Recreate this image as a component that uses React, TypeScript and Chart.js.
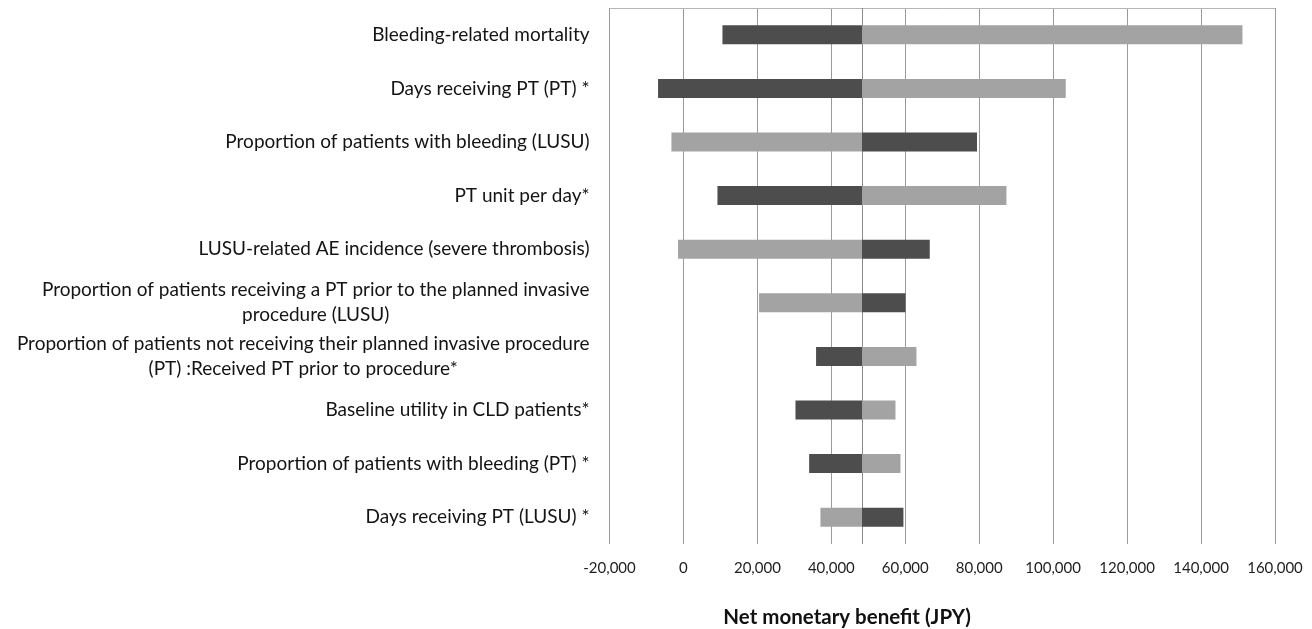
import React, { useEffect, useRef } from "react";
import { Chart, registerables } from "chart.js";

Chart.register(...registerables);

const CATEGORIES: (string | string[])[] = [
  "Bleeding-related mortality",
  "Days receiving PT (PT) *",
  "Proportion of patients with bleeding (LUSU)",
  "PT unit per day*",
  "LUSU-related AE incidence (severe thrombosis)",
  ["Proportion of patients receiving a PT prior to the planned invasive", "procedure (LUSU)"],
  ["Proportion of patients not receiving their planned invasive procedure", "(PT) :Received PT prior to procedure*"],
  "Baseline utility in CLD patients*",
  "Proportion of patients with bleeding (PT) *",
  "Days receiving PT (LUSU) *",
];

const BASE_VALUE = 48300;
const DARK_END = [10550, -6870, 79400, 9200, 66620, 60050, 35870, 30300, 34000, 59500];
const LIGHT_END = [151200, 103400, -3250, 87360, -1460, 20450, 63020, 57350, 58700, 37050];

const X_MIN = -20000;
const X_MAX = 160000;
const X_STEP = 20000;
const X_TITLE = "Net monetary benefit (JPY)";

const DARK = "#4d4d4d";
const LIGHT = "#a3a3a3";

export default function App() {
  const ref = useRef<HTMLCanvasElement | null>(null);

  useEffect(() => {
    if (!ref.current) return;

    const labelPlugin = {
      id: "tornadoLabels",
      beforeDatasetsDraw(chart: any) {
        const { ctx, chartArea, scales } = chart;
        const x = scales.x;
        ctx.save();
        ctx.strokeStyle = "#b5b5b5";
        ctx.lineWidth = 1;
        ctx.beginPath();
        ctx.moveTo(chartArea.left, Math.round(chartArea.top) + 0.5);
        ctx.lineTo(chartArea.right, Math.round(chartArea.top) + 0.5);
        ctx.stroke();
        const bx = Math.round(x.getPixelForValue(BASE_VALUE)) + 0.5;
        ctx.strokeStyle = "#8a8a8a";
        ctx.beginPath();
        ctx.moveTo(bx, chartArea.top);
        ctx.lineTo(bx, chartArea.bottom);
        ctx.stroke();
        ctx.restore();
      },
      afterDraw(chart: any) {
        const { ctx, chartArea, scales } = chart;
        const y = scales.y;
        ctx.save();
        ctx.font = "19px Lato";
        ctx.fillStyle = "#141414";
        ctx.textBaseline = "middle";
        const right = chartArea.left - 20;
        const lh = 25;
        CATEGORIES.forEach((lab, i) => {
          const cy = y.getPixelForValue(i);
          const lines = Array.isArray(lab) ? lab : [lab];
          const widths = lines.map((l) => ctx.measureText(l).width);
          const blockW = Math.max(...widths);
          const startY = cy - ((lines.length - 1) * lh) / 2;
          lines.forEach((l, k) => {
            if (lines.length === 1) {
              ctx.textAlign = "right";
              ctx.fillText(l, right, startY + k * lh);
            } else {
              ctx.textAlign = "center";
              ctx.fillText(l, right - blockW / 2, startY + k * lh);
            }
          });
        });
        ctx.font = "bold 20.5px Lato";
        ctx.textAlign = "center";
        ctx.fillStyle = "#111";
        const tx = chartArea.left + (chartArea.right - chartArea.left) * 0.357;
        ctx.fillText(X_TITLE, tx, chartArea.bottom + 73);
        ctx.restore();
      },
    };

    const chart = new Chart(ref.current, {
      type: "bar",
      data: {
        labels: CATEGORIES.map((c) => (Array.isArray(c) ? c.join(" ") : c)),
        datasets: [
          {
            label: "Low",
            data: DARK_END.map((v) => [BASE_VALUE, v]) as any,
            backgroundColor: DARK,
            borderWidth: 0,
            grouped: false,
            categoryPercentage: 1,
            barPercentage: 0.355,
          },
          {
            label: "High",
            data: LIGHT_END.map((v) => [BASE_VALUE, v]) as any,
            backgroundColor: LIGHT,
            borderWidth: 0,
            grouped: false,
            categoryPercentage: 1,
            barPercentage: 0.355,
          },
        ],
      },
      options: {
        indexAxis: "y",
        animation: false,
        responsive: true,
        maintainAspectRatio: false,
        layout: { padding: { left: 609.5, right: 37, top: 8, bottom: 45 } },
        plugins: {
          legend: { display: false },
          tooltip: { enabled: false },
          title: { display: false },
        },
        scales: {
          y: {
            display: false,
            offset: true,
          },
          x: {
            type: "linear",
            min: X_MIN,
            max: X_MAX,
            afterFit: (s: any) => {
              s.height = 40;
              s.paddingLeft = 0;
              s.paddingRight = 0;
            },
            border: { display: false },
            grid: { color: "#9a9a9a", lineWidth: 1, drawTicks: false },
            ticks: {
              stepSize: X_STEP,
              padding: 15,
              color: "#1e1e1e",
              font: { family: "Lato", size: 15 },
              callback: (v: any) => Number(v).toLocaleString("en-US"),
            },
          },
        },
      },
      plugins: [labelPlugin],
    });
    return () => chart.destroy();
  }, []);

  return (
    <div style={{ position: "fixed", left: 0, top: 0, width: 1312, height: 629, background: "#fff" }}>
      <canvas ref={ref} />
    </div>
  );
}
